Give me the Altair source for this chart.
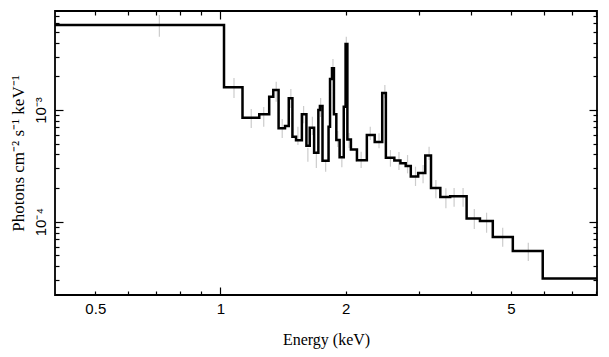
import altair as alt
import pandas as pd

# Model step spectrum: bin edges (keV) and flux per bin (photons cm^-2 s^-1 keV^-1)
bin_edges = [0.4, 1.02, 1.13, 1.24, 1.31, 1.34, 1.38, 1.43, 1.46, 1.49, 1.52, 1.57, 1.61,
             1.64, 1.68, 1.72, 1.735, 1.76, 1.82, 1.835, 1.855, 1.875, 1.90, 1.935, 1.98,
             2.0, 2.02, 2.06, 2.13, 2.25, 2.35, 2.45, 2.50, 2.62, 2.71, 2.79, 2.87, 2.99,
             3.11, 3.21, 3.38, 3.57, 3.91, 4.21, 4.52, 5.05, 5.96, 8.05]
bin_values = [5.77e-3, 1.60e-3, 8.53e-4, 9.15e-4, 1.315e-3, 1.51e-3, 6.86e-4, 7.19e-4,
              1.273e-3, 5.77e-4, 5.35e-4, 9.15e-4, 4.79e-4, 6.94e-4, 4.15e-4, 1.0e-3,
              1.086e-3, 3.52e-4, 7.09e-4, 1.894e-3, 2.362e-3, 9.15e-4, 5.39e-4, 3.77e-4,
              1.07e-3, 3.90e-3, 5.44e-4, 4.43e-4, 3.55e-4, 5.97e-4, 5.17e-4, 1.42e-3,
              3.74e-4, 3.53e-4, 3.33e-4, 3.15e-4, 2.54e-4, 2.73e-4, 3.92e-4, 2.0e-4,
              1.664e-4, 1.688e-4, 1.068e-4, 1.015e-4, 7.30e-5, 5.47e-5, 3.11e-5]

# Data error bars
err_energy = [0.713, 1.078, 1.186, 1.271, 1.362, 1.408, 1.477, 1.536, 1.585, 1.623, 1.664,
              1.701, 1.742, 1.791, 1.865, 1.915, 1.959, 2.008, 2.039, 2.124, 2.180, 2.293,
              2.407, 2.486, 2.564, 2.688, 2.819, 2.946, 3.072, 3.176, 3.298, 3.486, 3.648,
              3.834, 4.080, 4.367, 4.775, 5.502]
err_low = [4.53e-3, 1.28e-3, 6.90e-4, 7.09e-4, 1.187e-3, 5.62e-4, 1.042e-3, 4.86e-4, 7.60e-4,
           3.44e-4, 5.97e-4, 3.03e-4, 8.66e-4, 2.80e-4, 2.13e-3, 4.66e-4, 3.07e-4, 3.82e-3,
           4.57e-4, 3.44e-4, 3.03e-4, 5.39e-4, 4.54e-4, 1.273e-3, 3.11e-4, 2.90e-4, 2.71e-4,
           2.09e-4, 2.21e-4, 3.57e-4, 1.62e-4, 1.318e-4, 1.362e-4, 1.362e-4, 8.60e-5, 7.97e-5,
           5.97e-5, 4.45e-5]
err_high = [7.09e-3, 1.934e-3, 1.021e-3, 1.064e-3, 1.792e-3, 8.31e-4, 1.542e-3, 7.09e-4,
            1.086e-3, 4.57e-4, 8.71e-4, 4.23e-4, 1.28e-3, 3.57e-4, 2.86e-3, 6.49e-4, 3.70e-4,
            4.53e-3, 6.22e-4, 4.12e-4, 4.23e-4, 7.09e-4, 6.19e-4, 1.675e-3, 4.38e-4, 4.21e-4,
            3.95e-4, 3.11e-4, 3.22e-4, 4.69e-4, 2.36e-4, 1.99e-4, 2.0e-4, 2.0e-4, 1.30e-4,
            1.204e-4, 8.84e-5, 6.49e-5]

# Axis ticks / labels
x_label_ticks = [0.5, 1, 2, 5]
x_major_ticks = [1]
x_minor_ticks = [0.5, 0.6, 0.7, 0.8, 0.9, 2, 3, 4, 5, 6, 7, 8]
y_label_ticks = [1e-4, 1e-3]
y_major_ticks = [1e-4, 1e-3]
y_minor_ticks = [3e-5, 4e-5, 5e-5, 6e-5, 7e-5, 8e-5, 9e-5,
                 2e-4, 3e-4, 4e-4, 5e-4, 6e-4, 7e-4, 8e-4, 9e-4,
                 2e-3, 3e-3, 4e-3, 5e-3, 6e-3, 7e-3]

step_df = pd.DataFrame({"energy": bin_edges, "flux": bin_values + [bin_values[-1]]})
err_df = pd.DataFrame({"energy": err_energy, "lo": err_low, "hi": err_high})

xscale = alt.Scale(type="log", domain=[0.4, 8.05])
yscale = alt.Scale(type="log", domain=[2.21e-5, 7.69e-3])


def tick_axis(values, size, orient):
    return alt.Axis(orient=orient, values=values, tickSize={"expr": f"-{size}"},
                    tickColor="black", tickWidth=1.2, labels=False, domain=False,
                    grid=False, title=None)


x_label_axis = alt.Axis(orient="bottom", values=x_label_ticks, ticks=False, domain=False,
                        grid=False, format="~g", labelFont="Liberation Sans",
                        labelFontSize=15, labelColor="black", labelPadding=18,
                        labelBaseline="alphabetic", labelFlush=False, labelOverlap=False,
                        title="Energy (keV)", titleFont="Liberation Serif", titleFontSize=16,
                        titleFontWeight="normal", titleColor="black", titleY=44,
                        titleBaseline="middle")
y_label_axis = alt.Axis(orient="left", values=y_label_ticks, ticks=False, domain=False,
                        grid=False,
                        labelExpr="datum.value < 0.0005 ? '10⁻⁴' : '10⁻³'",
                        labelFont="Liberation Sans", labelFontSize=15, labelColor="black",
                        labelAngle=270, labelAlign="center", labelBaseline="alphabetic",
                        labelPadding=10, labelFlush=False, labelOverlap=False,
                        title="Photons cm⁻² s⁻¹ keV⁻¹", titleFont="Liberation Serif",
                        titleFontSize=17, titleFontWeight="normal", titleColor="black",
                        titleX=-37, titleBaseline="middle", titleAngle=270)

errbars = alt.Chart(err_df).mark_rule(color="#cccccc", strokeWidth=1.2).encode(
    x=alt.X("energy:Q", scale=xscale, axis=x_label_axis),
    y=alt.Y("lo:Q", scale=yscale, axis=y_label_axis),
    y2="hi:Q",
)

step = alt.Chart(step_df).mark_line(interpolate="step-after", color="black",
                                    strokeWidth=2.5, clip=True).encode(
    x=alt.X("energy:Q", scale=xscale, axis=tick_axis(x_minor_ticks, 4, "bottom")),
    y=alt.Y("flux:Q", scale=yscale, axis=tick_axis(y_minor_ticks, 4, "left")),
)


def ghost(xax, yax):
    return alt.Chart(step_df).mark_line(strokeOpacity=0).encode(
        x=alt.X("energy:Q", scale=xscale, axis=xax),
        y=alt.Y("flux:Q", scale=yscale, axis=yax),
    )


g1 = ghost(tick_axis(x_major_ticks, 8, "bottom"), tick_axis(y_major_ticks, 8, "left"))
g2 = ghost(tick_axis(x_minor_ticks, 4, "top"), tick_axis(y_minor_ticks, 4, "right"))
g3 = ghost(tick_axis(x_major_ticks, 8, "top"), tick_axis(y_major_ticks, 8, "right"))

chart = alt.layer(errbars, step, g1, g2, g3).resolve_axis(
    x="independent", y="independent"
).properties(
    width=542, height=284, autosize="none",
    padding={"left": 55, "top": 11, "right": 12, "bottom": 62},
    background="white",
).configure_view(stroke="black", strokeWidth=1.8)

chart.save("out.html", embed_options={"renderer": "svg", "actions": False})
